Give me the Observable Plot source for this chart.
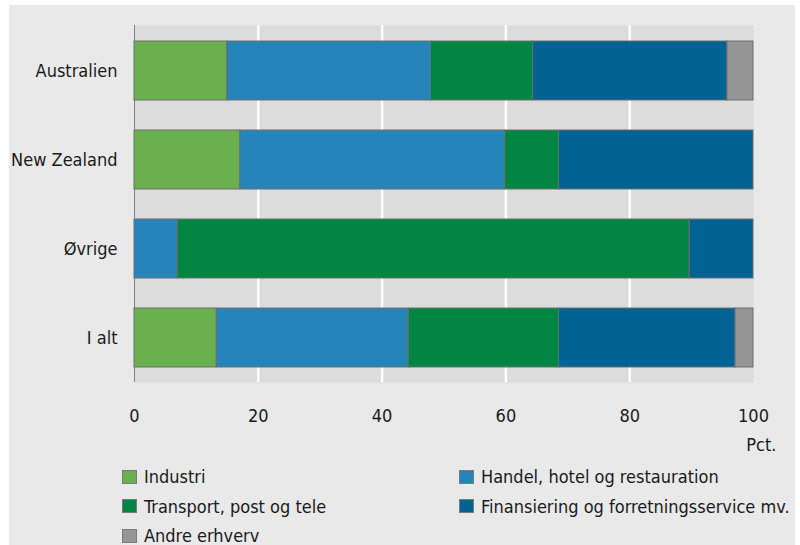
<!DOCTYPE html>
<html><head><meta charset="utf-8">
<script src="https://cdn.jsdelivr.net/npm/d3@7"></script>
<script src="https://cdn.jsdelivr.net/npm/@observablehq/plot@0.6"></script>
<style>
  body{margin:0;width:800px;height:545px;overflow:hidden;background:#fff;position:relative;
    font-family:"DejaVu Sans Condensed","DejaVu Sans",sans-serif;font-stretch:condensed;color:#1a1a1a}
  #panel{position:absolute;left:9px;top:5px;width:786px;height:560px;background:#e9e9e9}
  #chart{position:absolute;left:0;top:0}
  #legend{position:absolute;left:122px;top:462px;display:grid;grid-template-columns:337px auto;font-size:18px}
  .item{display:flex;align-items:center;height:29.5px;white-space:nowrap}
  .sw{width:13px;height:12px;border:1px solid #7a7a7a;margin-right:7px;flex:none}
</style>
</head><body>
<div id="panel"></div>
<div id="chart"></div>
<div id="legend"></div>
<script>
const regions = ["Australien", "New Zealand", "Øvrige", "I alt"];
const sectors = ["Industri", "Handel, hotel og restauration", "Transport, post og tele", "Finansiering og forretningsservice mv.", "Andre erhverv"];
const colors = ["#6ab04e", "#2584b9", "#008542", "#006394", "#959595"];
const industri  = [15.0, 17.1, 0,    13.3];
const handel    = [32.9, 42.8, 7.0,  31.0];
const transport = [16.5, 8.7,  82.7, 24.3];
const finans    = [31.4, 31.4, 10.3, 28.5];
const andre     = [4.2,  0,    0,    2.9];
const xTicks = [0, 20, 40, 60, 80, 100];
const gridTicks = [20, 40, 60, 80];
const unitLabel = "Pct.";

const series = [industri, handel, transport, finans, andre];
const data = [];
regions.forEach((r, i) => {
  sectors.forEach((s, j) => {
    if (series[j][i] > 0) data.push({region: r, sector: s, value: series[j][i]});
  });
});

const font = '"DejaVu Sans Condensed","DejaVu Sans",sans-serif';
const chart = Plot.plot({
  width: 800,
  height: 460,
  marginLeft: 134,
  marginRight: 47,
  marginTop: 25,
  marginBottom: 78,
  style: {background: "transparent", fontFamily: font, fontSize: "18px", fontStretch: "condensed", color: "#1a1a1a", overflow: "visible"},
  x: {domain: [0, 100]},
  y: {domain: regions, paddingInner: 0.34, paddingOuter: 0.17},
  color: {domain: sectors, range: colors},
  marks: [
    Plot.frame({fill: "#dcdcdc", stroke: null}),
    Plot.ruleX(gridTicks, {stroke: "#ffffff", strokeWidth: 2.5}),
    Plot.ruleX([0], {stroke: "#808080", strokeWidth: 1}),
    Plot.barX(data, Plot.stackX({y: "region", x: "value", fill: "sector", stroke: "#6e6e6e", strokeWidth: 1, order: null})),
    Plot.axisX({ticks: xTicks, tickSize: 0, tickPadding: 27, fontSize: 18, label: null, tickFormat: d => String(d)}),
    Plot.axisY({tickSize: 0, tickPadding: 17, fontSize: 18, label: null}),
    Plot.text([unitLabel], {frameAnchor: "bottom-right", text: d => d, dx: 23, dy: 63, textAnchor: "end", lineAnchor: "middle", fontSize: 18, fill: "#1a1a1a"})
  ]
});
document.getElementById("chart").appendChild(chart);

const legend = document.getElementById("legend");
sectors.forEach((s, j) => {
  const item = document.createElement("div");
  item.className = "item";
  const sw = document.createElement("span");
  sw.className = "sw";
  sw.style.background = colors[j];
  const t = document.createElement("span");
  t.textContent = s;
  item.appendChild(sw);
  item.appendChild(t);
  legend.appendChild(item);
});
</script>
</body></html>
